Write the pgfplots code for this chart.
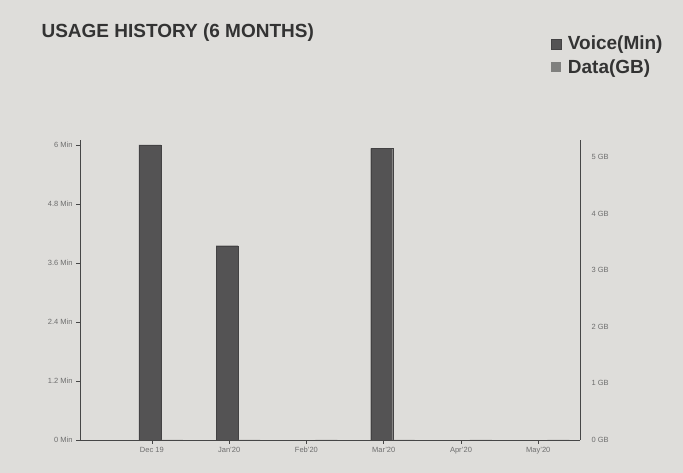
\documentclass[border=0pt]{standalone}
\usepackage{pgfplots}
\pgfplotsset{compat=1.18}
\usepackage{fontspec}
\setmainfont{Liberation Sans}
\definecolor{bg}{RGB}{222,221,218}
\definecolor{voice}{RGB}{84,83,84}
\definecolor{datac}{RGB}{128,128,126}
\definecolor{tickc}{RGB}{110,110,110}
\definecolor{axc}{RGB}{70,70,70}
\begin{document}
\begin{tikzpicture}[x=1pt,y=1pt]
\useasboundingbox (0,0) rectangle (683,473);
\fill[bg] (0,0) rectangle (683,473);
\node[anchor=west,font=\fontsize{19}{22}\selectfont\bfseries,text=black!80] at (38,440) {USAGE HISTORY (6 MONTHS)};
\begin{axis}[
  at={(80pt,33pt)}, anchor=south west,
  scale only axis, width=500pt, height=300pt,
  xmin=-0.93, xmax=5.54, ymin=0, ymax=6.1,
  axis x line*=bottom, axis y line*=left,
  axis line style={axc, line width=0.8pt},
  xtick={0,1,2,3,4,5},
  xticklabels={Dec 19,Jan'20,Feb'20,Mar'20,Apr'20,May'20},
  ytick={0,1.2,2.4,3.6,4.8,6},
  yticklabels={0 Min,1.2 Min,2.4 Min,3.6 Min,4.8 Min,6 Min},
  tick style={axc, line width=0.6pt}, major tick length=4pt,
  tick align=outside,
  ticklabel style={font=\fontsize{7.5}{9}\selectfont, text=tickc},
  ybar, bar width=22pt,
  legend style={at={(0.935,1.36)}, anchor=north west, draw=none, fill=none,
    font=\fontsize{19}{22}\selectfont\bfseries, text=black!80, row sep=4pt,
    cells={anchor=west}},
  legend image code/.code={\fill[#1] (0pt,-5pt) rectangle (10pt,5pt); \path[draw=none,fill=none] (0pt,0pt) rectangle (15pt,1pt);},
]
\addplot[fill=voice, draw=voice!80!black, bar shift=-2pt] coordinates {(0,6.0) (1,3.95) (3,5.93)};
\addlegendentry{Voice(Min)}
\addplot[fill=datac, draw=none, bar shift=20pt] coordinates {(0,0) (1,0) (2,0) (3,0) (4,0) (5,0)};
\addlegendentry{Data(GB)}
\end{axis}
\begin{axis}[
  at={(80pt,33pt)}, anchor=south west,
  scale only axis, width=500pt, height=300pt,
  xmin=-0.93, xmax=5.54, ymin=0, ymax=5.3,
  axis y line*=right, hide x axis,
  axis line style={axc, line width=0.8pt},
  ytick={0,1,2,3,4,5},
  yticklabels={0 GB,1 GB,2 GB,3 GB,4 GB,5 GB},
  major tick length=0pt,
  ticklabel style={font=\fontsize{7.5}{9}\selectfont, text=tickc},
  yticklabel style={xshift=8pt},
]
\addplot[draw=none] coordinates {(0,0)};
\end{axis}
\end{tikzpicture}
\end{document}
